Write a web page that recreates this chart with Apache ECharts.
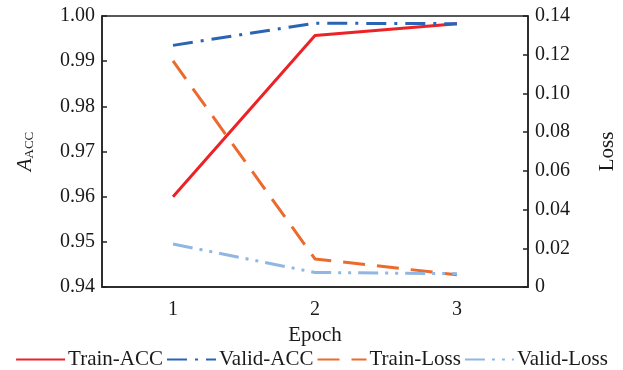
<!DOCTYPE html>
<html>
<head>
<meta charset="utf-8">
<script src="https://cdn.jsdelivr.net/npm/echarts@6/dist/echarts.min.js"></script>
<style>html,body{margin:0;padding:0;background:#fff}#c{width:623px;height:370px}</style>
</head>
<body>
<div id="c"></div>
<script>
const epochs = ['1', '2', '3'];
const trainAcc = [0.9600, 0.9957, 0.9983];
const validAcc = [0.9935, 0.9984, 0.9983];
const trainLoss = [0.1168, 0.0145, 0.0063];
const validLoss = [0.0222, 0.0075, 0.0069];
const seriesNames = ['Train-ACC', 'Valid-ACC', 'Train-Loss', 'Valid-Loss'];

const font = 'Liberation Serif';
const txt = '#1a1a1a';
const chart = echarts.init(document.getElementById('c'));
chart.setOption({
  animation: false,
  grid: { left: 102, right: 95, top: 16, bottom: 83, show: true, borderColor: '#222', borderWidth: 1.5,
          containLabel: false, outerBoundsMode: 'none' },
  legend: {
    bottom: -5, left: 'center', itemWidth: 49, itemHeight: 14, itemGap: 3,
    itemStyle: { opacity: 0 },
    textStyle: { fontFamily: font, fontSize: 21, color: txt, padding: [0, 0, 0, -2] },
    data: seriesNames
  },
  xAxis: {
    type: 'category', data: epochs, boundaryGap: true,
    name: 'Epoch', nameLocation: 'middle', nameGap: 31,
    nameTextStyle: { fontFamily: font, fontSize: 21, color: txt },
    axisLine: { lineStyle: { color: '#222', width: 1.5 } },
    axisTick: { inside: true, length: 5, lineStyle: { color: '#222', width: 1.5 } },
    axisLabel: { fontFamily: font, fontSize: 20, color: txt, margin: 13 }
  },
  yAxis: [
    {
      type: 'value', min: 0.94, max: 1.00, interval: 0.01,
      name: '{a|A}{s|ACC}', nameLocation: 'middle', nameGap: 66, nameRotate: 90,
      nameTextStyle: { rich: {
        a: { fontFamily: font, fontSize: 21, fontStyle: 'italic', color: txt },
        s: { fontFamily: font, fontSize: 13, color: txt, verticalAlign: 'bottom', padding: [8, 0, 0, 0] }
      } },
      axisLine: { show: true, lineStyle: { color: '#222', width: 1.5 } },
      axisTick: { show: true, inside: true, length: 5, lineStyle: { color: '#222', width: 1.5 } },
      axisLabel: { fontFamily: font, fontSize: 20, color: txt, margin: 7, formatter: v => v.toFixed(2) },
      splitLine: { show: false }
    },
    {
      type: 'value', min: 0, max: 0.14, interval: 0.02, position: 'right',
      name: 'Loss', nameLocation: 'middle', nameGap: 69, nameRotate: 90,
      nameTextStyle: { fontFamily: font, fontSize: 21, color: txt },
      axisLine: { show: true, lineStyle: { color: '#222', width: 1.5 } },
      axisTick: { show: true, inside: true, length: 5, lineStyle: { color: '#222', width: 1.5 } },
      axisLabel: { fontFamily: font, fontSize: 20, color: txt, margin: 7, formatter: v => v === 0 ? '0' : v.toFixed(2) },
      splitLine: { show: false }
    }
  ],
  series: [
    { name: seriesNames[0], type: 'line', yAxisIndex: 0, data: trainAcc, showSymbol: false, symbol: 'none',
      itemStyle: { color: '#ec2227' }, lineStyle: { color: '#ec2227', width: 3 } },
    { name: seriesNames[1], type: 'line', yAxisIndex: 0, data: validAcc, showSymbol: false, symbol: 'none',
      itemStyle: { color: '#2a64b5' }, lineStyle: { color: '#2a64b5', width: 3, type: [20, 8, 3, 8] } },
    { name: seriesNames[2], type: 'line', yAxisIndex: 1, data: trainLoss, showSymbol: false, symbol: 'none',
      itemStyle: { color: '#ec6a2c' }, lineStyle: { color: '#ec6a2c', width: 3, type: [22, 12] } },
    { name: seriesNames[3], type: 'line', yAxisIndex: 1, data: validLoss, showSymbol: false, symbol: 'none',
      itemStyle: { color: '#92b6e2' }, lineStyle: { color: '#92b6e2', width: 3, type: [20, 7, 3, 7, 3, 7] } }
  ]
});
</script>
</body>
</html>
